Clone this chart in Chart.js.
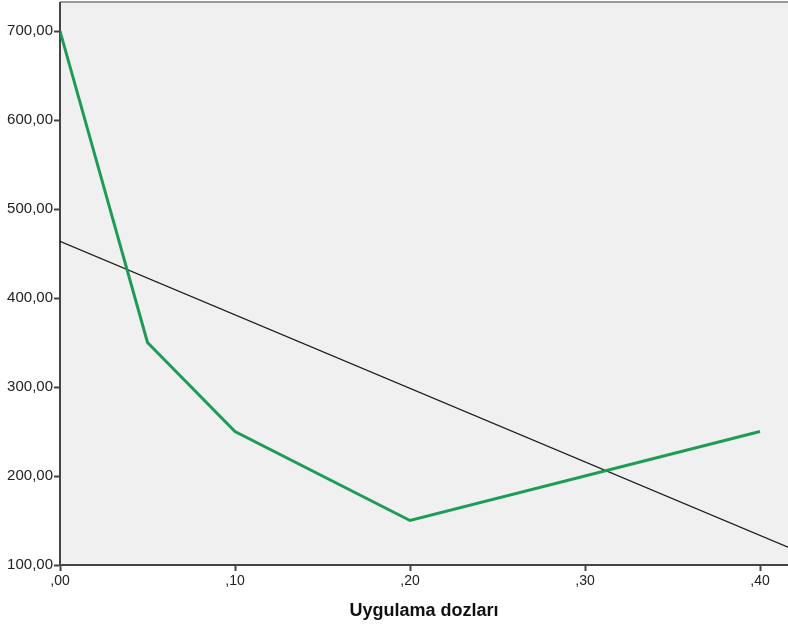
<!DOCTYPE html>
<html>
<head>
<meta charset="utf-8">
<script src="https://cdn.jsdelivr.net/npm/chart.js@4"></script>
<style>
  html, body { margin: 0; padding: 0; background: #fff; }
  #wrap { width: 788px; height: 632px; }
</style>
</head>
<body>
<div id="wrap"><canvas id="grafico"></canvas></div>
<script>
// dados
const doses = [0, 0.05, 0.10, 0.20, 0.40];
const valores = [700, 350, 250, 150, 250];
// linha de ajuste (extremos lidos)
const ajusteX = [0, 0.416];
const ajusteY = [463.75, 120];
const xTicks = [0, 0.1, 0.2, 0.3, 0.4];
const xTickLabels = [',00', ',10', ',20', ',30', ',40'];
const yTicks = [100, 200, 300, 400, 500, 600, 700];
const yTickLabels = ['100,00', '200,00', '300,00', '400,00', '500,00', '600,00', '700,00'];

const fundo = {
    id: 'fundo',
    beforeDraw(chart) {
        const { ctx, chartArea: a } = chart;
        ctx.save();
        ctx.fillStyle = '#f0f0f0';
        ctx.fillRect(a.left, a.top, a.right - a.left, a.bottom - a.top);
        ctx.strokeStyle = '#999999';
        ctx.lineWidth = 2;
        ctx.beginPath();
        ctx.moveTo(a.left, a.top - 1);
        ctx.lineTo(a.right, a.top - 1);
        ctx.stroke();
        ctx.restore();
    }
};

const ctx = document.getElementById('grafico').getContext('2d');

new Chart(ctx, {
    type: 'line',
    data: {
        datasets: [{
            data: doses.map((d, i) => ({ x: d, y: valores[i] })),
            borderColor: '#1e9b57',
            borderWidth: 3,
            pointRadius: 0,
            tension: 0,
            fill: false
        }, {
            data: ajusteX.map((d, i) => ({ x: d, y: ajusteY[i] })),
            borderColor: '#1a1a1a',
            borderWidth: 1.2,
            pointRadius: 0,
            fill: false
        }]
    },
    options: {
        responsive: true,
        maintainAspectRatio: false,
        animation: false,
        layout: { padding: { top: 3, right: 0, left: 0, bottom: 0 } },
        plugins: {
            legend: { display: false },
            tooltip: { enabled: false }
        },
        scales: {
            x: {
                type: 'linear',
                min: 0,
                max: 0.416,
                afterBuildTicks: s => { s.ticks = xTicks.map(v => ({ value: v })); },
                afterFit: s => { s.height = 67; s.paddingLeft = 0; s.paddingRight = 0; },
                grid: { drawOnChartArea: false, drawTicks: true, tickLength: 6, tickColor: '#444', tickWidth: 2 },
                border: { display: true, color: '#444', width: 2 },
                ticks: {
                    color: '#222',
                    font: { family: 'Liberation Sans, Arial', size: 14 },
                    padding: 2,
                    maxRotation: 0,
                    callback: v => xTickLabels[xTicks.indexOf(v)]
                },
                title: {
                    display: true,
                    text: 'Uygulama dozları',
                    color: '#111',
                    font: { family: 'Liberation Sans, Arial', size: 18, weight: 'bold' },
                    padding: { top: 4, bottom: 10 }
                }
            },
            y: {
                min: 100,
                max: 731.5,
                afterBuildTicks: s => { s.ticks = yTicks.map(v => ({ value: v })); },
                afterFit: s => { s.width = 60; s.paddingTop = 0; s.paddingBottom = 0; },
                grid: { drawOnChartArea: false, drawTicks: true, tickLength: 6, tickColor: '#444', tickWidth: 2 },
                border: { display: true, color: '#444', width: 2 },
                ticks: {
                    color: '#222',
                    font: { family: 'Liberation Sans, Arial', size: 15 },
                    padding: 1,
                    callback: v => yTickLabels[yTicks.indexOf(v)]
                }
            }
        }
    },
    plugins: [fundo]
});
</script>
</body>
</html>
